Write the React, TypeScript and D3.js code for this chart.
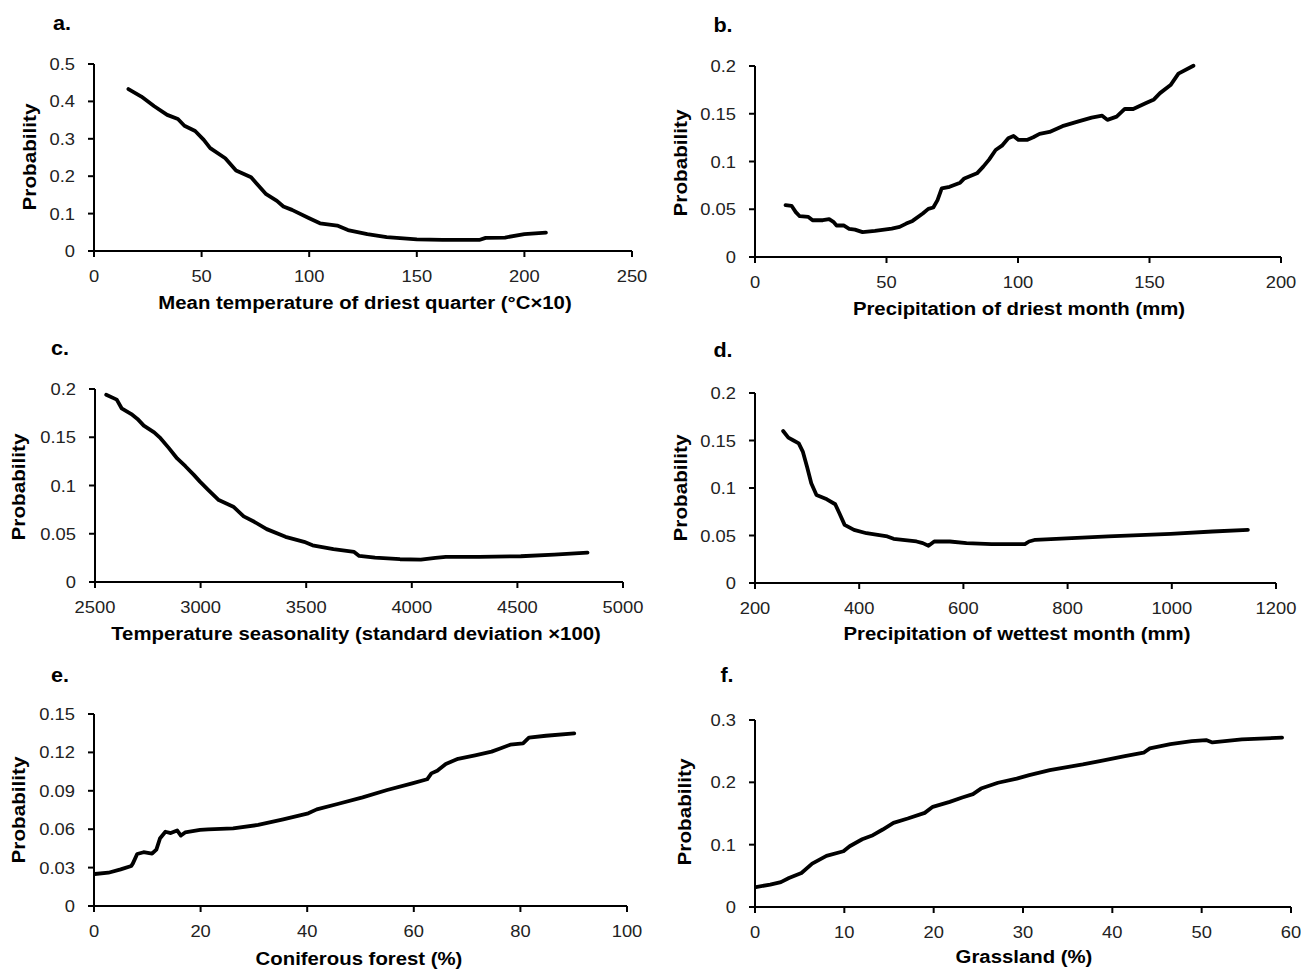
import React from "react";
import * as d3 from "d3";

// panel a: mean temperature of driest quarter
const aTemp = [16, 22, 28, 34, 39, 42, 47, 51, 54, 61, 66, 73, 80, 85, 88, 92, 100, 105, 113, 118, 127, 136, 150, 162, 179, 182, 191, 200, 210];
const aProb = [0.433, 0.413, 0.387, 0.364, 0.353, 0.335, 0.321, 0.297, 0.275, 0.248, 0.215, 0.197, 0.152, 0.134, 0.119, 0.11, 0.0875, 0.074, 0.068, 0.056, 0.045, 0.037, 0.031, 0.0295, 0.0295, 0.035, 0.036, 0.045, 0.049];

// panel b: precipitation of driest month
const bPrec = [11.6, 13.9, 15.5, 17, 20.3, 21.9, 25.8, 28.2, 29.8, 31, 33.7, 35.8, 38, 40.9, 45.6, 52, 55, 57.5, 59.9, 63.8, 65.9, 67.8, 69.4, 71, 74, 78, 79.6, 84.4, 86.8, 89, 91.5, 93.9, 96.3, 98.3, 100.2, 103.4, 105.8, 108.2, 112, 116.9, 123, 128, 132, 134, 137.5, 140.6, 143.8, 148.5, 151.7, 154, 158, 161, 166.7];
const bProb = [0.0543, 0.0536, 0.047, 0.0427, 0.042, 0.0385, 0.0385, 0.0396, 0.0368, 0.033, 0.033, 0.0294, 0.0287, 0.026, 0.0273, 0.0298, 0.0315, 0.035, 0.0378, 0.0455, 0.0504, 0.0518, 0.0595, 0.0718, 0.0735, 0.0778, 0.0823, 0.0876, 0.0946, 0.102, 0.112, 0.1166, 0.1243, 0.1268, 0.1226, 0.1226, 0.1254, 0.1289, 0.131, 0.137, 0.142, 0.146, 0.148, 0.1436, 0.147, 0.155, 0.155, 0.161, 0.165, 0.1716, 0.18, 0.192, 0.2003];

// panel c: temperature seasonality
const cSeas = [2553, 2603, 2626, 2672, 2701, 2731, 2780, 2810, 2849, 2889, 2928, 2968, 2997, 3037, 3086, 3155, 3204, 3254, 3313, 3402, 3490, 3530, 3629, 3727, 3751, 3826, 3944, 4043, 4112, 4161, 4319, 4516, 4674, 4832];
const cProb = [0.194, 0.189, 0.18, 0.174, 0.169, 0.162, 0.155, 0.149, 0.139, 0.128, 0.12, 0.111, 0.104, 0.0953, 0.0849, 0.078, 0.068, 0.0624, 0.0548, 0.0468, 0.0416, 0.038, 0.034, 0.0312, 0.027, 0.0253, 0.0236, 0.0232, 0.025, 0.026, 0.026, 0.0267, 0.0284, 0.0305];

// panel d: precipitation of wettest month
const dPrec = [254, 264, 274, 284, 292, 300, 308, 318, 338, 354, 362, 372, 390, 414, 454, 466, 510, 522, 533, 544, 574, 606, 654, 718, 726, 738, 798, 878, 998, 1078, 1146];
const dProb = [0.16, 0.153, 0.15, 0.147, 0.138, 0.122, 0.105, 0.0927, 0.0881, 0.0829, 0.0734, 0.0612, 0.0559, 0.0524, 0.049, 0.0465, 0.0437, 0.042, 0.0392, 0.0437, 0.0437, 0.042, 0.0409, 0.0409, 0.0437, 0.0455, 0.0469, 0.049, 0.0517, 0.0542, 0.056];

// panel e: coniferous forest
const eForest = [0.16, 2.7, 5, 7, 7.3, 8.1, 9.3, 10.9, 11.7, 12.4, 13.4, 14.4, 15.6, 16.3, 17.1, 19.9, 21.4, 26.1, 30.8, 35.5, 40.2, 41.8, 45.7, 50.4, 55, 59.7, 62.5, 63.3, 64.4, 66, 68.3, 71.5, 74.6, 76.2, 78.1, 80.5, 81.6, 84.8, 90.1];
const eProb = [0.025, 0.026, 0.0286, 0.0313, 0.0333, 0.0406, 0.042, 0.041, 0.044, 0.053, 0.058, 0.057, 0.059, 0.055, 0.0575, 0.0594, 0.0599, 0.0607, 0.0633, 0.0677, 0.0724, 0.0755, 0.0797, 0.0849, 0.0906, 0.0958, 0.099, 0.1036, 0.1057, 0.111, 0.115, 0.1177, 0.1206, 0.123, 0.126, 0.127, 0.1315, 0.133, 0.1349];

// panel f: grassland
const fGrass = [0.1, 1.7, 2.9, 3.8, 5.2, 6.4, 8, 9.9, 10.6, 12, 13.2, 14.3, 15.5, 17.1, 19, 19.9, 21.8, 23.2, 24.4, 25.3, 27.2, 29.3, 30.7, 33, 36.7, 38.6, 41.4, 43.5, 44.2, 46.5, 48.9, 50.5, 51.2, 54.5, 59];
const fProb = [0.032, 0.0359, 0.04, 0.0466, 0.0546, 0.0696, 0.082, 0.0894, 0.0975, 0.1087, 0.1152, 0.1243, 0.135, 0.142, 0.151, 0.1607, 0.1687, 0.1757, 0.181, 0.19, 0.1993, 0.206, 0.2116, 0.2196, 0.2287, 0.234, 0.2421, 0.2475, 0.2544, 0.2614, 0.2662, 0.2678, 0.264, 0.2689, 0.2716];

const aXTicks = [0, 50, 100, 150, 200, 250];
const aYTicks = [0, 0.1, 0.2, 0.3, 0.4, 0.5];
const bXTicks = [0, 50, 100, 150, 200];
const bYTicks = [0, 0.05, 0.1, 0.15, 0.2];
const cXTicks = [2500, 3000, 3500, 4000, 4500, 5000];
const cYTicks = [0, 0.05, 0.1, 0.15, 0.2];
const dXTicks = [200, 400, 600, 800, 1000, 1200];
const dYTicks = [0, 0.05, 0.1, 0.15, 0.2];
const eXTicks = [0, 20, 40, 60, 80, 100];
const eYTicks = [0, 0.03, 0.06, 0.09, 0.12, 0.15];
const fXTicks = [0, 10, 20, 30, 40, 50, 60];
const fYTicks = [0, 0.1, 0.2, 0.3];

const panelTags = ["a.", "b.", "c.", "d.", "e.", "f."];
const xTitles = [
  "Mean temperature of driest quarter (°C×10)",
  "Precipitation of driest month (mm)",
  "Temperature seasonality (standard deviation ×100)",
  "Precipitation of wettest month (mm)",
  "Coniferous forest (%)",
  "Grassland (%)",
];

const FONT = "'Liberation Sans', Arial, sans-serif";

type Layout = {
  left: number; right: number; top: number; bottom: number;
  tag: [number, number]; xt: [number, number]; yt: [number, number];
};

const layouts: Layout[] = [
  { left: 94, right: 632, top: 64, bottom: 251, tag: [62, 30], xt: [365, 309], yt: [36, 157] },
  { left: 755, right: 1281, top: 66, bottom: 257, tag: [723, 32], xt: [1019, 315], yt: [687, 163] },
  { left: 95, right: 623, top: 389, bottom: 582, tag: [60, 355], xt: [356, 640], yt: [25, 487] },
  { left: 755, right: 1276, top: 393, bottom: 583, tag: [723, 357], xt: [1017, 640], yt: [687, 488] },
  { left: 94, right: 627, top: 714, bottom: 906, tag: [60, 682], xt: [359, 965], yt: [25, 810] },
  { left: 755, right: 1291, top: 720, bottom: 907, tag: [727, 682], xt: [1024, 963], yt: [691, 812] },
];

const series = [
  { xs: aTemp, ys: aProb, xt: aXTicks, yt: aYTicks },
  { xs: bPrec, ys: bProb, xt: bXTicks, yt: bYTicks },
  { xs: cSeas, ys: cProb, xt: cXTicks, yt: cYTicks },
  { xs: dPrec, ys: dProb, xt: dXTicks, yt: dYTicks },
  { xs: eForest, ys: eProb, xt: eXTicks, yt: eYTicks },
  { xs: fGrass, ys: fProb, xt: fXTicks, yt: fYTicks },
];

function Panel({ i }: { i: number }) {
  const L = layouts[i];
  const s = series[i];
  const x = d3.scaleLinear().domain([s.xt[0], s.xt[s.xt.length - 1]]).range([L.left, L.right]);
  const y = d3.scaleLinear().domain([s.yt[0], s.yt[s.yt.length - 1]]).range([L.bottom, L.top]);
  const line = d3
    .line<number>()
    .x((_, k) => x(s.xs[k]))
    .y((d) => y(d));
  return (
    <g>
      <text transform={`translate(${L.tag[0]},${L.tag[1]}) scale(1.08,1)`} textAnchor="middle" fontFamily={FONT} fontWeight="bold" fontSize={20}>
        {panelTags[i]}
      </text>
      <line x1={L.left} x2={L.left} y1={L.top} y2={L.bottom} stroke="#000" strokeWidth={2} />
      <line x1={L.left - 6} x2={L.right} y1={L.bottom} y2={L.bottom} stroke="#000" strokeWidth={2} />
      {s.yt.map((t) => (
        <g key={"y" + t}>
          <line x1={L.left - 6} x2={L.left} y1={y(t)} y2={y(t)} stroke="#000" strokeWidth={2} />
          <text
            transform={`translate(${L.left - 19},${y(t) + 6}) scale(1.08,1)`}
            textAnchor="end"
            fontFamily={FONT}
            fontSize={17}
            fill="#222"
          >
            {String(t)}
          </text>
        </g>
      ))}
      {s.xt.map((t) => (
        <g key={"x" + t}>
          <line x1={x(t)} x2={x(t)} y1={L.bottom} y2={L.bottom + 6} stroke="#000" strokeWidth={2} />
          <text
            transform={`translate(${x(t)},${L.bottom + 31}) scale(1.08,1)`}
            textAnchor="middle"
            fontFamily={FONT}
            fontSize={17}
            fill="#222"
          >
            {String(t)}
          </text>
        </g>
      ))}
      <path d={line(s.ys) || ""} fill="none" stroke="#000" strokeWidth={3.8} strokeLinejoin="round" strokeLinecap="round" />
      <text
        transform={`translate(${L.xt[0]},${L.xt[1]}) scale(1.1,1)`}
        textAnchor="middle"
        fontFamily={FONT}
        fontWeight="bold"
        fontSize={18.5}
      >
        {xTitles[i]}
      </text>
      <text
        transform={`translate(${L.yt[0]},${L.yt[1]}) rotate(-90) scale(1.12,1)`}
        textAnchor="middle"
        fontFamily={FONT}
        fontWeight="bold"
        fontSize={18.5}
      >
        Probability
      </text>
    </g>
  );
}

export default function App() {
  return (
    <div style={{ position: "absolute", left: 0, top: 0 }}>
      <svg width={1301} height={969} style={{ display: "block", background: "#fff" }}>
        {layouts.map((_, i) => (
          <Panel key={i} i={i} />
        ))}
      </svg>
    </div>
  );
}
